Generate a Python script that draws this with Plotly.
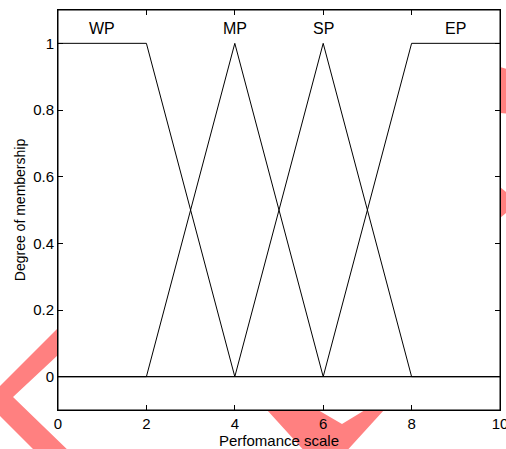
import plotly.graph_objects as go

# membership functions on the performance scale
wp_x = [0, 2, 4, 10]
wp_y = [1, 1, 0, 0]
mp_x = [0, 2, 4, 6, 10]
mp_y = [0, 0, 1, 0, 0]
sp_x = [0, 4, 6, 8, 10]
sp_y = [0, 0, 1, 0, 0]
ep_x = [0, 6, 8, 10]
ep_y = [0, 0, 1, 1]

mf_names = ['WP', 'MP', 'SP', 'EP']
label_x = [1, 4, 6, 9]
label_y = 1.045

x_ticks = [0, 2, 4, 6, 8, 10]
y_ticks = [0, 0.2, 0.4, 0.6, 0.8, 1]

font = 'Arial, Liberation Sans, sans-serif'

W, H = 506, 449
# plot box in pixels (also used for the pink watermark outside the axes)
L, R, T, B = 58, 500, 10, 410


def to_paper(pts):
    out = []
    for i, (px, py) in enumerate(pts):
        xp = (px - L) / (R - L)
        yp = (B - py) / (B - T)
        out.append(('M' if i == 0 else 'L') + f'{xp:.4f},{yp:.4f}')
    return ' '.join(out) + ' Z'


watermark = [
    [(-15, 401), (58, 328), (58, 355), (13, 397), (73, 455), (39, 455)],
    [(267, 410), (318, 410), (342, 424), (365, 410), (384, 410), (343, 455), (308, 455)],
    [(500, 67), (510, 70), (510, 114), (500, 113)],
    [(500, 187), (506, 192), (506, 213), (500, 218)],
]

fig = go.Figure()

for xs, ys, name in zip([wp_x, mp_x, sp_x, ep_x], [wp_y, mp_y, sp_y, ep_y], mf_names):
    fig.add_trace(go.Scatter(
        x=xs, y=ys, mode='lines', name=name,
        line=dict(color='black', width=1),
        showlegend=False,
    ))

for name, lx in zip(mf_names, label_x):
    fig.add_annotation(x=lx, y=label_y, text=name, showarrow=False,
                       font=dict(family=font, size=16, color='black'))

for poly in watermark:
    fig.add_shape(type='path', path=to_paper(poly), xref='paper', yref='paper',
                  fillcolor='#ff8080', line=dict(width=0), layer='below')

# axes box
fig.add_shape(type='rect', xref='paper', yref='paper', x0=0, y0=0, x1=1, y1=1,
              line=dict(color='black', width=1), layer='above')

axis_style = dict(
    showline=True, linecolor='black', linewidth=1, mirror='ticks',
    ticks='inside', ticklen=5, tickcolor='black', tickwidth=1,
    showgrid=False, zeroline=False,
    tickfont=dict(family=font, size=15, color='black'),
    automargin=False,
)

fig.update_layout(
    width=W, height=H,
    margin=dict(l=L, r=W - R, t=T, b=H - B),
    paper_bgcolor='white', plot_bgcolor='white',
    xaxis=dict(range=[0, 10], tickvals=x_ticks, ticktext=[str(v) for v in x_ticks],
               ticklabeloverflow='allow',
               title=dict(text='Perfomance scale', standoff=2,
                          font=dict(family=font, size=15, color='black')),
               **axis_style),
    yaxis=dict(range=[-0.1, 1.1], tickvals=y_ticks, ticktext=['0', '0.2', '0.4', '0.6', '0.8', '1'],
               title=dict(text='Degree of membership', standoff=4,
                          font=dict(family=font, size=14, color='black')),
               **axis_style),
)

# drop the default page margin so the figure fills the window exactly
fig.write_html('out.html', config={'displayModeBar': False},
               post_script="document.body.style.margin='0';document.body.style.overflow='hidden';")
